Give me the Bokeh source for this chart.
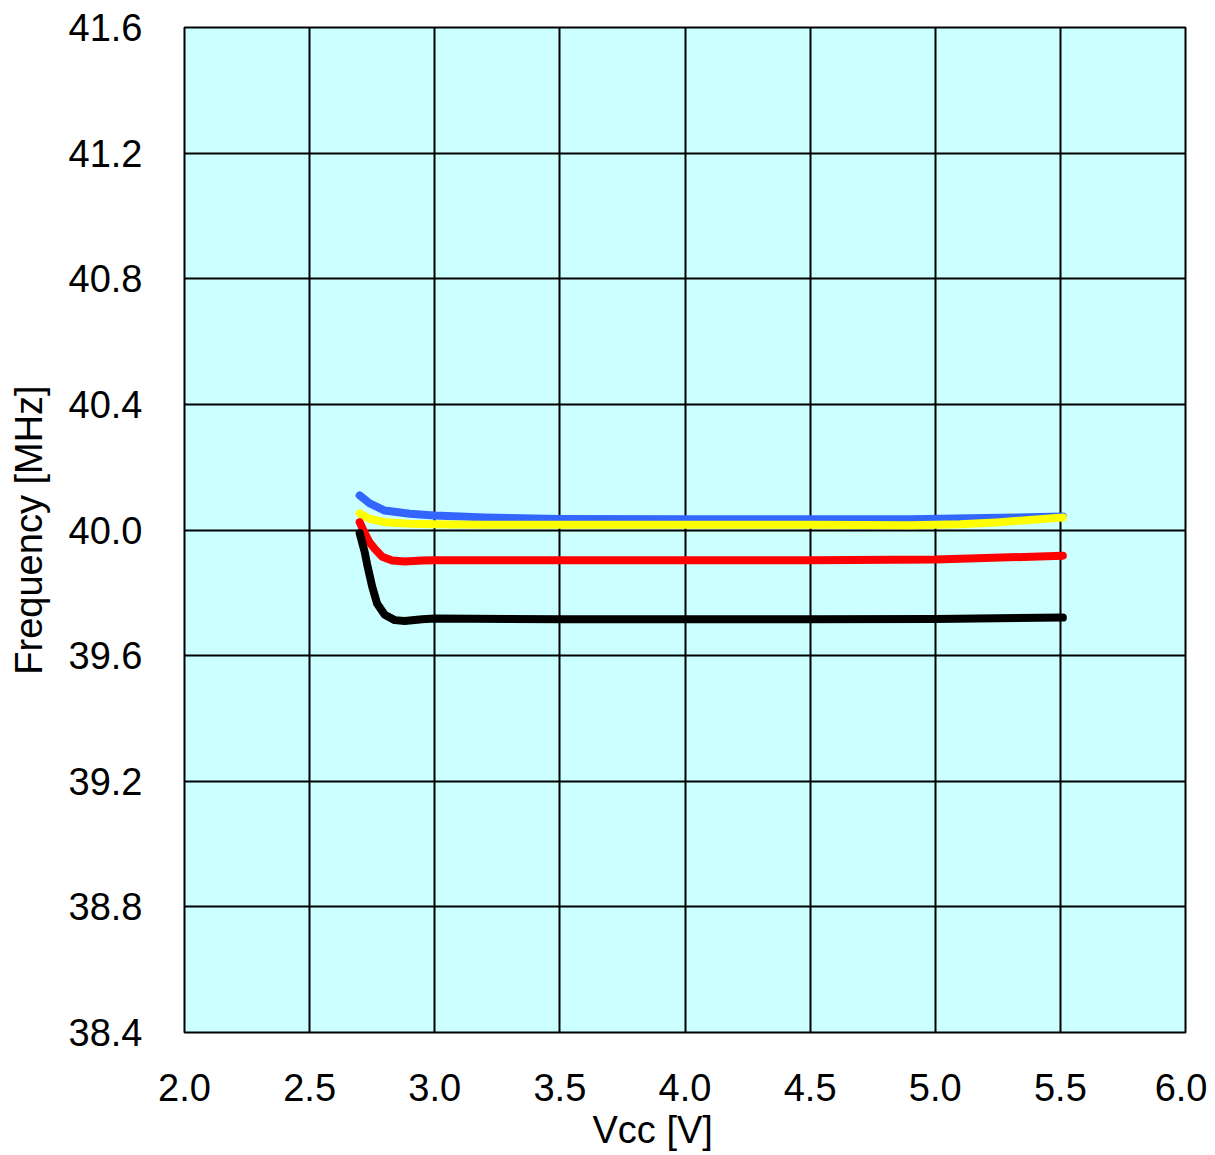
from bokeh.plotting import figure
from bokeh.models import FixedTicker, Range1d, Title
from bokeh.embed import file_html
from bokeh.resources import INLINE

# Data
blue_v = [2.70, 2.74, 2.80, 2.90, 3.00, 3.20, 3.50, 4.00, 4.50, 4.90, 5.20, 5.51]
blue_f = [40.11, 40.085, 40.062, 40.052, 40.046, 40.040, 40.035, 40.034, 40.034, 40.034, 40.038, 40.043]

yellow_v = [2.70, 2.74, 2.80, 2.90, 3.00, 3.20, 3.50, 4.00, 4.50, 4.90, 5.10, 5.26, 5.51]
yellow_f = [40.053, 40.035, 40.025, 40.020, 40.018, 40.017, 40.017, 40.017, 40.017, 40.015, 40.018, 40.025, 40.040]

red_v = [2.70, 2.72, 2.74, 2.76, 2.79, 2.83, 2.88, 2.95, 3.00, 3.50, 4.00, 4.50, 5.00, 5.51]
red_f = [40.025, 39.99, 39.96, 39.94, 39.915, 39.903, 39.900, 39.903, 39.904, 39.904, 39.904, 39.904, 39.906, 39.918]

black_v = [2.70, 2.72, 2.73, 2.75, 2.77, 2.80, 2.84, 2.88, 2.95, 3.00, 3.50, 4.00, 4.50, 5.00, 5.51]
black_f = [39.990, 39.93, 39.890, 39.820, 39.765, 39.730, 39.713, 39.710, 39.716, 39.718, 39.716, 39.716, 39.716, 39.717, 39.721]

x_ticks = [2.0, 2.5, 3.0, 3.5, 4.0, 4.5, 5.0, 5.5, 6.0]
y_ticks = [38.4, 38.8, 39.2, 39.6, 40.0, 40.4, 40.8, 41.2, 41.6]
x_title = "Vcc [V]"
y_title = "Frequency [MHz]"

p = figure(frame_width=1001, frame_height=1005, output_backend="svg", toolbar_location=None,
           x_range=Range1d(2.0, 6.0), y_range=Range1d(38.4, 41.6),
           min_border_left=184, min_border_right=22, min_border_top=27,
           min_border_bottom=118)

p.background_fill_color = "#CCFFFF"
p.border_fill_color = "white"
p.outline_line_color = "black"
p.outline_line_width = 2

for ax in (p.xaxis[0], p.yaxis[0]):
    ax.axis_line_color = None
    ax.major_tick_line_color = None
    ax.minor_tick_line_color = None
    ax.major_label_text_font = "Liberation Sans"
    ax.major_label_text_font_size = "38px"
    ax.major_label_text_color = "black"

p.xaxis.ticker = FixedTicker(ticks=x_ticks)
p.yaxis.ticker = FixedTicker(ticks=y_ticks)
p.xaxis.major_label_overrides = {t: f"{t:.1f}" for t in x_ticks}
p.yaxis.major_label_overrides = {t: f"{t:.1f}" for t in y_ticks}
p.xaxis.major_label_standoff = 35
p.yaxis.major_label_standoff = 36

p.yaxis.axis_label = y_title
p.yaxis.axis_label_text_font = "Liberation Sans"
p.yaxis.axis_label_text_font_size = "38px"
p.yaxis.axis_label_text_font_style = "normal"
p.yaxis.axis_label_text_color = "black"
p.yaxis.axis_label_standoff = 16

p.xgrid.ticker = FixedTicker(ticks=x_ticks)
p.ygrid.ticker = FixedTicker(ticks=y_ticks)
p.grid.grid_line_color = "black"
p.grid.grid_line_width = 2
p.grid.grid_line_alpha = 1.0

lw = 8
p.line(blue_v, blue_f, line_color="#3366FF", line_width=lw, line_cap="round", line_join="round")
p.line(yellow_v, yellow_f, line_color="#FFFF00", line_width=lw, line_cap="round", line_join="round")
p.line(red_v, red_f, line_color="#FF0000", line_width=lw, line_cap="round", line_join="round")
p.line(black_v, black_f, line_color="black", line_width=lw, line_cap="round", line_join="round")

# x title as a Title annotation so it can be offset left like the reference
p.add_layout(Title(text=x_title, align="left", offset=408, standoff=6,
                   text_font="Liberation Sans", text_font_size="38px",
                   text_font_style="normal", text_color="black"), "below")

open("out.html", "w").write(file_html(p, INLINE))
